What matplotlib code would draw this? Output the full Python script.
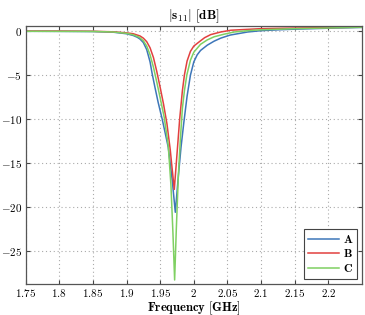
import matplotlib
matplotlib.use("Agg")
import matplotlib.pyplot as plt
from matplotlib.ticker import FuncFormatter

plt.rcParams['mathtext.fontset'] = 'cm'
plt.rcParams['font.family'] = ['DejaVu Serif']

freq_A = [1.75, 1.80, 1.85, 1.88, 1.90, 1.91, 1.916, 1.92, 1.925, 1.93, 1.935, 1.938,
          1.942, 1.947, 1.953, 1.962, 1.968, 1.9725, 1.977, 1.981, 1.985, 1.99, 1.995,
          2.0, 2.005, 2.01, 2.02, 2.03, 2.04, 2.054, 2.08, 2.1, 2.126, 2.15, 2.2, 2.25]
db_A = [-0.02, -0.03, -0.05, -0.12, -0.3, -0.5, -0.7, -0.9, -1.3, -2.1, -3.5, -4.8,
        -6.3, -8.1, -10.0, -13.2, -17.0, -20.6, -16.5, -13.2, -10.5, -7.4, -5.0,
        -3.5, -2.7, -2.2, -1.6, -1.15, -0.8, -0.45, -0.1, 0.05, 0.15, 0.22, 0.33, 0.42]

freq_B = [1.75, 1.80, 1.85, 1.88, 1.90, 1.91, 1.92, 1.925, 1.93, 1.935, 1.94, 1.945,
          1.95, 1.955, 1.96, 1.965, 1.968, 1.971, 1.975, 1.979, 1.983, 1.986, 1.99,
          1.995, 2.0, 2.01, 2.016, 2.025, 2.04, 2.055, 2.08, 2.1, 2.15, 2.2, 2.25]
db_B = [0.0, 0.0, -0.02, -0.08, -0.2, -0.3, -0.55, -0.8, -1.2, -1.9, -3.0, -4.6,
        -6.4, -8.3, -10.5, -13.5, -15.8, -18.0, -14.0, -10.0, -6.8, -5.0, -3.4,
        -2.3, -1.7, -1.1, -0.75, -0.4, -0.1, 0.1, 0.2, 0.28, 0.35, 0.4, 0.45]

freq_C = [1.75, 1.85, 1.88, 1.90, 1.91, 1.919, 1.925, 1.93, 1.935, 1.94, 1.945, 1.95,
          1.956, 1.962, 1.966, 1.969, 1.9715, 1.974, 1.977, 1.98, 1.983, 1.986,
          1.9896, 1.995, 2.0, 2.01, 2.02, 2.03, 2.045, 2.06, 2.08, 2.1, 2.15, 2.2, 2.25]
db_C = [-0.02, -0.04, -0.1, -0.25, -0.42, -0.7, -1.1, -1.7, -2.7, -4.1, -5.8, -7.6,
        -9.8, -13.0, -17.5, -23.0, -28.3, -22.5, -16.5, -12.3, -8.8, -6.8,
        -5.0, -3.3, -2.4, -1.5, -1.0, -0.65, -0.35, -0.1, 0.05, 0.15, 0.28, 0.36, 0.44]

labels = ['A', 'B', 'C']
colors = ['#3d76b9', '#e2403f', '#7fd062']
xticks = [1.75, 1.8, 1.85, 1.9, 1.95, 2.0, 2.05, 2.1, 2.15, 2.2]
yticks = [0, -5, -10, -15, -20, -25]

fig = plt.figure(figsize=(3.65, 3.15), dpi=100)
ax = fig.add_axes([0.07, 0.1, 0.922, 0.818])

for f, d, lab, c in zip([freq_A, freq_B, freq_C], [db_A, db_B, db_C], labels, colors):
    ax.plot(f, d, color=c, lw=1.1, label=r'$\mathbf{%s}$' % lab)

ax.set_xlim(1.75, 2.25)
ax.set_ylim(-28.7, 0.6)
ax.set_xticks(xticks)
ax.set_yticks(yticks)
ax.xaxis.set_major_formatter(FuncFormatter(lambda v, p: r'$%g$' % v))
ax.yaxis.set_major_formatter(FuncFormatter(lambda v, p: r'$%g$' % v))
ax.tick_params(direction='in', top=True, right=True, length=3, labelsize=8,
               color='#444444', pad=2.5)
ax.grid(True, linestyle=(0, (1, 2.5)), color='#aaaaaa', lw=0.8)
for s in ax.spines.values():
    s.set_color('#555555')
    s.set_linewidth(0.9)

ax.set_title(r'$\mathbf{|s_{11}|\ [dB]}$', fontsize=9.5, pad=5)
ax.set_xlabel(r'$\mathbf{Frequency\ [GHz]}$', fontsize=9, labelpad=0)

leg = ax.legend(loc='lower right', fontsize=8.5, handlelength=2.6, fancybox=False,
                framealpha=1, edgecolor='#444444', borderpad=0.3, labelspacing=0.15,
                handletextpad=0.4, borderaxespad=0.4)
leg.get_frame().set_linewidth(0.8)

fig.savefig('out.png', dpi=100)
